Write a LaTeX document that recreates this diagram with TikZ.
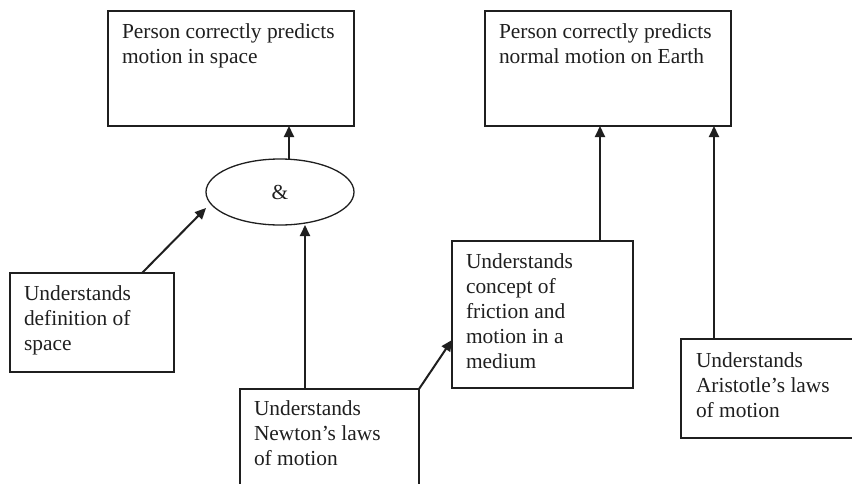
\documentclass[tikz,border=0pt]{standalone}
\usepackage{fontspec}
\setmainfont{Liberation Serif}
\usetikzlibrary{arrows.meta,shapes.geometric}
\definecolor{ink}{gray}{0.12}
\tikzset{
  box/.style={draw=ink, line width=1.3pt, rectangle, inner sep=0pt, outer sep=0pt, anchor=north west},
  lbl/.style={anchor=north west, inner sep=0pt, outer sep=0pt, align=left, text=ink,
              font=\fontsize{21.4}{25}\selectfont},
  andnode/.style={draw=ink, line width=1.3pt, ellipse, inner sep=0pt, outer sep=0pt,
              minimum width=148pt, minimum height=66pt, text=ink, font=\fontsize{21.4}{25}\selectfont},
  arr/.style={draw=ink, line width=2pt, -{Triangle[length=11pt,width=10pt]}},
}
\begin{document}
\begin{tikzpicture}[x=1pt,y=-1pt]
\useasboundingbox (0,0) rectangle (852,483);
\clip (0,0) rectangle (852,483);
\fill[white] (0,0) rectangle (852,483);

% goal boxes
\node[box, minimum width=246pt, minimum height=115pt] (pa) at (108,11) {};
\node[lbl] (paT) at ([xshift=14pt,yshift=-9.5pt]pa.north west) {\strut Person correctly predicts\\motion in space};
\node[box, minimum width=246pt, minimum height=115pt] (pb) at (485,11) {};
\node[lbl] (pbT) at ([xshift=14pt,yshift=-9.5pt]pb.north west) {\strut Person correctly predicts\\normal motion on Earth};

% conjunction
\node[andnode] (amp) at (280,192) {\&};

% understanding boxes
\node[box, minimum width=164pt, minimum height=99pt] (def) at (10,273) {};
\node[lbl] (defT) at ([xshift=14pt,yshift=-9.5pt]def.north west) {\strut Understands\\definition of\\space};

\node[box, minimum width=179pt, minimum height=140pt] (nwt) at (240,389) {};
\node[lbl] (nwtT) at ([xshift=14pt,yshift=-8.5pt]nwt.north west) {\strut Understands\\Newton’s laws\\of motion};

\node[box, minimum width=181pt, minimum height=147pt] (fric) at (452,241) {};
\node[lbl] (fricT) at ([xshift=14pt,yshift=-9.5pt]fric.north west) {\strut Understands\\concept of\\friction and\\motion in a\\medium};

\node[box, minimum width=260pt, minimum height=99pt] (ari) at (681,339) {};
\node[lbl] (ariT) at ([xshift=15pt,yshift=-10.5pt]ari.north west) {\strut Understands\\Aristotle’s laws\\of motion};

% connectors
\draw[arr] ([xshift=9pt]amp.north) -- ([xshift=9pt]amp.north |- pa.south);
\draw[arr] ([xshift=132pt]def.north west) -- ([yshift=-16pt]amp.west);
\draw[arr] ([xshift=65pt]nwt.north west) -- ([xshift=65pt]nwt.north west |- amp.south);
\draw[arr] (nwt.north east) -- ([yshift=-25.5pt]fric.west);
\draw[arr] ([xshift=148pt]fric.north west) -- ([xshift=148pt]fric.north west |- pb.south);
\draw[arr] ([xshift=33pt]ari.north west) -- ([xshift=33pt]ari.north west |- pb.south);
\end{tikzpicture}
\end{document}
